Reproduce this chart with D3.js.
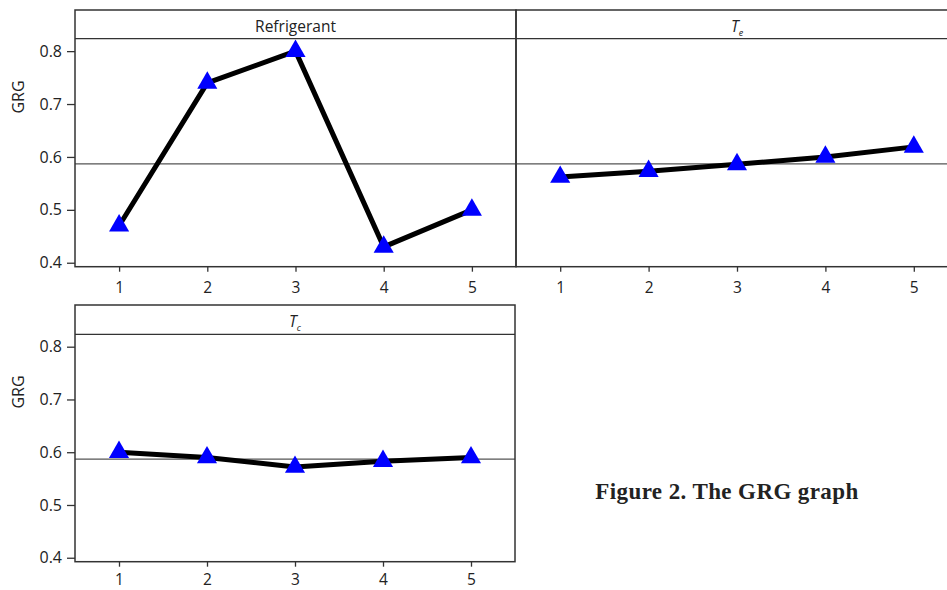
<!DOCTYPE html>
<html>
<head>
<meta charset="utf-8">
<script src="https://cdn.jsdelivr.net/npm/d3@7"></script>
<style>
  html, body { margin: 0; padding: 0; background: #fff; }
  svg { display: block; }
</style>
</head>
<body>
<svg id="chart" width="947" height="590"></svg>
<script>
// ---- data ----
const levels = [1, 2, 3, 4, 5];
const refrigerantGRG = [0.47, 0.74, 0.80, 0.43, 0.50];
const teGRG = [0.562, 0.573, 0.586, 0.600, 0.619];
const tcGRG = [0.600, 0.590, 0.572, 0.583, 0.590];
const meanGRG = 0.587;
const yTicks = [0.4, 0.5, 0.6, 0.7, 0.8];
const yLabel = "GRG";
const caption = "Figure 2. The GRG graph";

// ---- layout ----
const svg = d3.select("#chart");
const panels = [
  { title: "Refrigerant", sub: null, values: refrigerantGRG, x0: 75, x1: 516, top: 10, hb: 38.7, bottom: 266.7, yAxis: true, pad: 10 },
  { title: "T", sub: "e", values: teGRG, x0: 516, x1: 958, top: 10, hb: 38.7, bottom: 266.7, yAxis: false, pad: 10 },
  { title: "T", sub: "c", values: tcGRG, x0: 75, x1: 515, top: 305, hb: 334.3, bottom: 561.7, yAxis: true, pad: 7.5 }
];

const fontSans = "'Open Sans', 'Noto Sans', sans-serif";
const frameColor = "#333";

panels.forEach(p => {
  const x = d3.scaleLinear().domain([0.5, 5.5]).range([p.x0, p.x1]);
  const y = d3.scaleLinear().domain([0.3925, 0.8235]).range([p.bottom, p.hb]);
  const g = svg.append("g");

  // mean line
  g.append("line")
    .attr("x1", p.x0).attr("x2", p.x1)
    .attr("y1", y(meanGRG)).attr("y2", y(meanGRG))
    .attr("stroke", "#555").attr("stroke-width", 1.3);

  // data line
  const line = d3.line().x((d, i) => x(levels[i])).y(d => y(d));
  g.append("path")
    .datum(p.values)
    .attr("d", line)
    .attr("fill", "none")
    .attr("stroke", "#000")
    .attr("stroke-width", 5)
    .attr("stroke-linejoin", "round");

  // markers
  const tri = d3.symbol().type(d3.symbolTriangle).size(175);
  g.selectAll("path.marker")
    .data(p.values)
    .join("path")
    .attr("class", "marker")
    .attr("d", tri)
    .attr("transform", (d, i) => `translate(${x(levels[i])},${y(d)})`)
    .attr("fill", "#0000ff");

  // frame
  g.append("rect")
    .attr("x", p.x0).attr("y", p.top)
    .attr("width", p.x1 - p.x0).attr("height", p.bottom - p.top)
    .attr("fill", "none").attr("stroke", frameColor).attr("stroke-width", 1.5);
  g.append("line")
    .attr("x1", p.x0).attr("x2", p.x1)
    .attr("y1", p.hb).attr("y2", p.hb)
    .attr("stroke", frameColor).attr("stroke-width", 1.3);

  // header title
  const t = g.append("text")
    .attr("x", (p.x0 + p.x1) / 2)
    .attr("y", p.top + 21.5)
    .attr("text-anchor", "middle")
    .attr("font-family", fontSans)
    .attr("font-size", 15.5)
    .attr("fill", "#222");
  if (p.sub) {
    t.append("tspan").attr("font-style", "italic").text(p.title);
    t.append("tspan").attr("font-style", "italic").attr("font-size", 9).attr("dy", 4).text(p.sub);
  } else {
    t.text(p.title);
  }

  // x axis
  const xAxis = d3.axisBottom(x).tickValues(levels).tickFormat(d3.format("d"))
    .tickSize(5).tickPadding(p.pad).tickSizeOuter(0);
  const gx = g.append("g").attr("transform", `translate(0,${p.bottom})`).call(xAxis);
  gx.select(".domain").remove();
  gx.selectAll(".tick line").attr("stroke", frameColor).attr("stroke-width", 1.3);
  gx.selectAll(".tick text").attr("font-family", fontSans).attr("font-size", 15.5).attr("fill", "#222");

  // y axis
  if (p.yAxis) {
    const yAxis = d3.axisLeft(y).tickValues(yTicks).tickFormat(d3.format(".1f"))
      .tickSize(8).tickPadding(5).tickSizeOuter(0);
    const gy = g.append("g").attr("transform", `translate(${p.x0},0)`).call(yAxis);
    gy.select(".domain").remove();
    gy.selectAll(".tick line").attr("stroke", frameColor).attr("stroke-width", 1.3);
    gy.selectAll(".tick text").attr("font-family", fontSans).attr("font-size", 16).attr("fill", "#222");

    g.append("text")
      .attr("transform", `translate(${24},${p.top + 87}) rotate(-90)`)
      .attr("text-anchor", "middle")
      .attr("font-family", fontSans)
      .attr("font-size", 16)
      .attr("fill", "#222")
      .text(yLabel);
  }
});

// caption
svg.append("text")
  .attr("x", 727)
  .attr("y", 499)
  .attr("text-anchor", "middle")
  .attr("font-family", "'Liberation Serif', 'Times New Roman', serif")
  .attr("font-weight", "bold")
  .attr("font-size", 23)
  .attr("letter-spacing", 0.4)
  .attr("fill", "#222")
  .text(caption);
</script>
</body>
</html>
